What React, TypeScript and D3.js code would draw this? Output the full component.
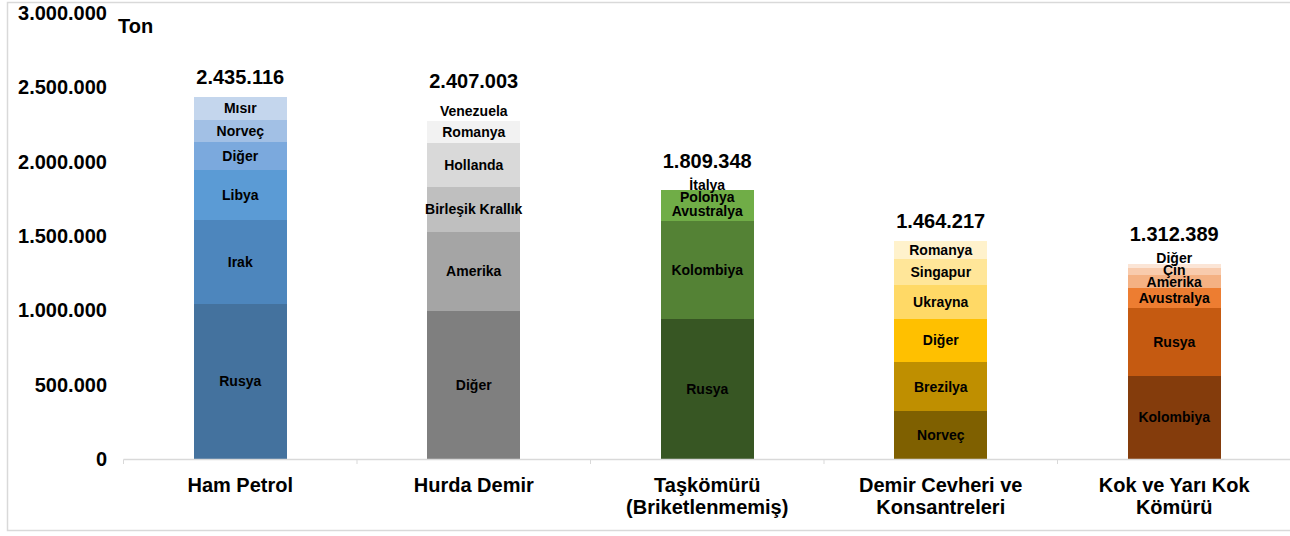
import React from "react";
import * as d3 from "d3";

// categories (x axis, split into lines)
const categoryLines: string[][] = [
  ["Ham Petrol"],
  ["Hurda Demir"],
  ["Taşkömürü", "(Briketlenmemiş)"],
  ["Demir Cevheri ve", "Konsantreleri"],
  ["Kok ve Yarı Kok", "Kömürü"],
];
const totals = [2435116, 2407003, 1809348, 1464217, 1312389];

// segments, bottom to top
const hamPetrolNames = ["Rusya", "Irak", "Libya", "Diğer", "Norveç", "Mısır"];
const hamPetrolValues = [1045000, 563000, 337000, 188000, 148000, 154116];
const hurdaNames = ["Diğer", "Amerika", "Birleşik Krallık", "Hollanda", "Romanya", "Venezuela"];
const hurdaValues = [995000, 532000, 305000, 296000, 146000, 133003];
const taskomuruNames = ["Rusya", "Kolombiya", "Avustralya", "Polonya", "İtalya"];
const taskomuruValues = [942000, 659000, 139000, 45000, 24348];
const demirNames = ["Norveç", "Brezilya", "Diğer", "Ukrayna", "Singapur", "Romanya"];
const demirValues = [323000, 327000, 294000, 226000, 175000, 119217];
const kokNames = ["Kolombiya", "Rusya", "Avustralya", "Amerika", "Çin", "Diğer"];
const kokValues = [558000, 458000, 132000, 90000, 45000, 29389];

const yTicks = [0, 500000, 1000000, 1500000, 2000000, 2500000, 3000000];

const palettes = [
  ["#44729e", "#4d86bd", "#5b9bd5", "#7ba9dd", "#a2c0e5", "#c4d6ed"],
  ["#7f7f7f", "#a5a5a5", "#bfbfbf", "#d9d9d9", "#f2f2f2", "#ffffff"],
  ["#375623", "#548235", "#70ad47", "#70ad47", "#70ad47"],
  ["#7f6000", "#bf8f00", "#ffc000", "#ffd966", "#ffe699", "#fff2cc"],
  ["#843c0c", "#c55a11", "#ed7d31", "#f4b183", "#f8cbad", "#fbe5d6"],
];

const stacks = [
  { names: hamPetrolNames, values: hamPetrolValues },
  { names: hurdaNames, values: hurdaValues },
  { names: taskomuruNames, values: taskomuruValues },
  { names: demirNames, values: demirValues },
  { names: kokNames, values: kokValues },
];

const W = 1290;
const H = 536;
const FONT = "'Liberation Sans', Arial, Helvetica, sans-serif";

const locale = d3.formatLocale({ decimal: ",", thousands: ".", grouping: [3], currency: ["", ""] });
const fmt = locale.format(",d");

export default function App() {
  const y = d3.scaleLinear().domain([0, 3000000]).range([459, 13]);
  const x = d3
    .scaleBand<number>()
    .domain(d3.range(categoryLines.length))
    .range([123.5, 1291])
    .paddingInner(0.6)
    .paddingOuter(0.3);
  const step = x.step();
  const x0 = 123.5;

  return (
    <div style={{ position: "absolute", left: 0, top: 0, width: W, height: H, background: "#fff" }}>
      <svg width={W} height={H} style={{ display: "block", fontFamily: FONT }}>
        <rect x={7.5} y={2.5} width={W + 10} height={528} fill="#fff" stroke="#d9d9d9" strokeWidth={1.5} />

        {/* y axis labels */}
        {yTicks.map((t) => (
          <text key={t} x={107} y={y(t)} dy="0.35em" textAnchor="end" fontSize={20} fontWeight="bold" fill="#000">
            {fmt(t)}
          </text>
        ))}
        <text x={118} y={33} fontSize={20} fontWeight="bold" fill="#000">Ton</text>

        {/* bars */}
        {stacks.map((s, i) => {
          const bx = x(i)!;
          const bw = x.bandwidth();
          const cx = bx + bw / 2;
          let acc = 0;
          const segs = s.values.map((v, j) => {
            const seg = { name: s.names[j], y0: acc, y1: acc + v, color: palettes[i][j] };
            acc += v;
            return seg;
          });
          // label positions: segment centres, pushed up if crowding
          const labelY: number[] = [];
          segs.forEach((sg, j) => {
            const c = y((sg.y0 + sg.y1) / 2);
            labelY.push(j === 0 ? c : Math.min(c, labelY[j - 1] - 12));
          });
          const topLabel = labelY[labelY.length - 1];
          const totalY = Math.min(y(totals[i]) - 20, topLabel - 24);
          return (
            <g key={i}>
              {segs.map((sg, j) => (
                <rect key={j} x={bx} y={Math.round(y(sg.y1))} width={bw}
                  height={Math.round(y(sg.y0)) - Math.round(y(sg.y1))} fill={sg.color} shapeRendering="crispEdges" />
              ))}
              {segs.map((sg, j) => (
                <text key={"l" + j} x={cx} y={labelY[j]} dy="0.35em" textAnchor="middle" fontSize={14} fontWeight="bold" fill="#000">
                  {sg.name}
                </text>
              ))}
              <text x={cx} y={totalY} dy="0.35em" textAnchor="middle" fontSize={20} fontWeight="bold" fill="#000">
                {fmt(totals[i])}
              </text>
            </g>
          );
        })}

        {/* x axis */}
        <line x1={x0} x2={W} y1={459.5} y2={459.5} stroke="#d9d9d9" strokeWidth={1.5} />
        {d3.range(categoryLines.length + 1).map((k) => (
          <line key={k} x1={x0 + k * step} x2={x0 + k * step} y1={459.5} y2={464} stroke="#d9d9d9" strokeWidth={1} />
        ))}
        {categoryLines.map((lines, i) => (
          <text key={i} x={x(i)! + x.bandwidth() / 2} y={492} textAnchor="middle" fontSize={20} fontWeight="bold" fill="#000">
            {lines.map((ln, k) => (
              <tspan key={k} x={x(i)! + x.bandwidth() / 2} dy={k === 0 ? 0 : 22}>
                {ln}
              </tspan>
            ))}
          </text>
        ))}
      </svg>
    </div>
  );
}
